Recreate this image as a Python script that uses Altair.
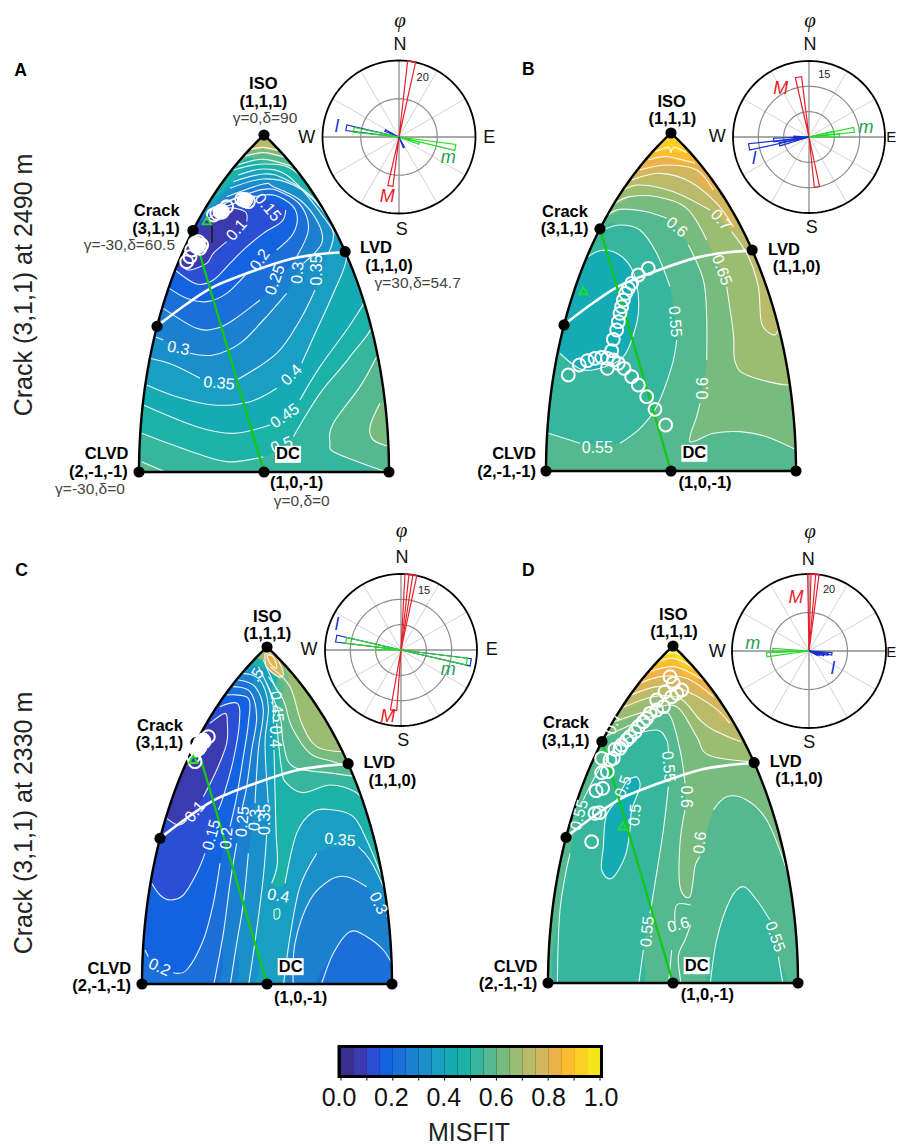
import math
import altair as alt
import pandas as pd

W, H = 909, 1146
# MISFIT colour bins, 0.00-0.05 ... 0.95-1.00
BINS = ["#38308f","#3b3aaf","#2a4fd4","#1262e2","#1a70d8","#1c80d0","#1a90ca","#189fc2","#14abb5","#1cb2a8",
        "#36b69c","#55b98f","#78bb7f","#9abd72","#b9bb6a","#d2b75e","#ebb24a","#fdbb2f","#fbd022","#f6e51a"]

# panel: crop offset, lune centre x, apex y, base y, half width, rose centre x, y, radius
PANELS = {
    "A": dict(o=(0,0),     cx=264, top=135, base=472, half=125, rc=(399,137), rr=76.5),
    "B": dict(o=(500,0),   cx=671, top=133, base=471, half=125, rc=(809,137), rr=76),
    "C": dict(o=(0,510),   cx=267, top=647, base=984, half=125, rc=(401,650), rr=76),
    "D": dict(o=(500,510), cx=673, top=646, base=983, half=125, rc=(809,651), rr=77),
}
N = None
# (misfit bin, traced isoline [N = gap for a label], closing points or "below")
FIELD_A = [
 (14, [], "all"),
 (12, [(745,450),(790,442),(835,452)], "below"),
 (11, [(730,470),(790,458),(855,472)], "below"),
 (10, [(715,495),(790,478),(880,500)], "below"),
 (9, [(425,1300),(560,1350),(680,1385),(790,1370),N,(880,1310),(960,1180),(1050,1070),(1125,950),(1075,800),(960,610),(880,510),(790,492),(700,510)], [(420,900),(395,1300)]),
 (8, [(430,1215),(590,1280),(700,1300),(810,1275),N,(900,1200),(960,1100),(1060,960),(1095,880),(1050,770),(940,610),(860,525),(790,507),(715,525)], [(400,900),(395,1215)]),
 (7, [(440,1155),(530,1190),(640,1215),(750,1205),(830,1165),N,(905,1090),(950,990),(1000,880),(1040,770),(1005,690),(935,590),(850,535),(790,522),(700,545)], [(420,850),(410,1155)]),
 (6, [(450,1075),(520,1095),(600,1135),N,(710,1140),(830,1060),(900,960),(945,870),N,(985,760),(1000,700),(960,620),(880,555),(790,537),(690,565)], [(440,850),(420,1075)]),
 (5, [(465,1010),(490,1020),N,(570,1060),(640,1065),(720,1030),(790,960),(860,880),N,(910,790),(965,730),(955,670),(900,600),(820,560),(790,552),(680,590)], [(460,800),(440,1010)]),
 (4, [(490,925),(590,985),(650,985),(700,960),(780,900),N,(890,770),(925,690),(905,620),(850,580),(790,568),(665,610)], [(480,780),(470,925)]),
 (3, [(500,860),(560,895),(620,905),(680,880),(740,820),N,(830,750),(880,700),(890,640),(855,600),(790,585),(650,630)], [(510,750),(490,860)]),
 (2, [(525,810),(590,852),(640,840),(690,790),(735,745),(790,700),(845,665),(857,630),N,(770,590),(720,590),(640,630)], [(530,740),(510,810)]),
 (1, [(550,800),(570,810),(620,790),(640,760),(680,725),N,(740,665),(735,635),(680,625),(620,660)], [(560,720),(530,790)]),
 (11, [(1130,1070),(1080,1160),(1000,1270),(990,1330),(1010,1360),(1170,1420)], [(1200,1430),(1200,1070)]),
 (11, [(425,1385),(495,1415)], [(495,1440),(400,1440),(400,1385)]),
 (12, [(1140,1210),(1110,1280),(1120,1320),(1170,1340)], [(1200,1340),(1200,1210)]),
]
FIELD_B = [
 (18, [], "all"),
 (17, [(465,455),(505,442),(512,458),(522,442),(560,458)], "below"),
 (16, [(445,480),(500,470),(585,490)], "below"),
 (15, [(420,510),(500,495),(590,510),(640,570)], "below"),
 (14, [(395,540),(480,520),(570,545),(650,610),(700,680)], "below"),
 (13, [(370,570),(420,555),(520,575),(630,630),N,(695,695),(745,770),(775,860),(785,970),(820,1005),(835,990)], "below"),
 (12, [(345,610),(390,590),(470,590),(560,625),(620,720),N,(680,860),(700,1000),(705,1085),(740,1125),(860,1155),(880,1130)], "below"),
 (11, [(325,645),(360,628),(440,635),(500,655),N,(565,735),(610,840),(620,950),(620,1080),N,(600,1210),(590,1250),(570,1325),(640,1300),(720,1295),(800,1310),(890,1350)], "below"),
 (10, [(145,1300),(240,1330),N,(360,1330),(420,1285),(470,1220),(515,1100),(530,1020),N,(510,860),(470,760),(420,690),(360,675),(310,690)], [(200,900),(110,1300)]),
 (8, [(180,1060),(250,1110),(330,1095),(370,1070),(395,1020),(415,940),(410,850),(385,790),(340,755),(290,755),(240,790)], [(190,880),(150,1060)]),
]
FIELD_C = [
 (13, [], "all"),
 (12, [(810,470),(870,530),(905,640),(950,710),(1030,725)], "below"),
 (11, [(805,500),(850,570),(875,650),(930,730),(1000,755),(1060,775)], "below"),
 (10, [(800,520),(840,620),(850,700),(880,770),(1000,790),(1075,800)], "below"),
 (9, [(790,450),(830,540),N,(830,640),(845,780),(860,820),(910,848),(990,825),(1065,845),(1100,885)], "below"),
 (7, [(775,470),(815,560),(820,640),N,(822,720),(828,960),(832,1060),(815,1120),N,(855,1120),(890,970),(940,905),(1000,900),(1060,920),(1100,990),(1150,1110)], "below"),
 (6, [(850,1430),(870,1280),(900,1130),(950,1030),N,(1075,1010),(1110,1050),(1150,1130),(1175,1200)], [(1200,1200),(1200,1440),(850,1450)]),
 (5, [(880,1430),(885,1300),(930,1170),(990,1110),(1040,1100),(1100,1130),N,(1160,1215),(1180,1260)], [(1200,1300),(1190,1450)]),
 (4, [(962,1430),(1000,1330),(1050,1265),(1100,1280),(1150,1320),(1180,1370)], [(1200,1440)]),
 (6, [(730,490),(780,510),(805,590),(795,700),(805,880),N,(800,975),(790,1100),(770,1260),(745,1430)], [(400,1440),(400,800)]),
 (5, [(715,510),(765,530),(790,600),(775,720),(765,880),N,(745,1030),(730,1180),(710,1300),(690,1430)], [(400,1440),(400,800)]),
 (4, [(700,530),(750,545),(770,620),(755,720),(740,830),(725,900),N,(710,1000),(690,1120),(670,1270),(640,1430)], [(400,1440),(400,800)]),
 (3, [(435,1320),(445,1340),N,(520,1388),(560,1380),(610,1290),(640,1180),(660,1060),N,(690,950),(710,860),(730,740),(745,640),(745,565),(680,555)], [(640,560),(500,820),(400,1320)]),
 (2, [(455,1120),(480,1155),(510,1170),(550,1155),(590,1090),(615,1030),N,(655,900),(670,860),(700,750),(718,640),(712,580),(660,590)], [(610,610),(500,850),(420,1120)]),
 (1, [(500,925),(535,945),(560,930),N,(610,860),(650,780),(680,700),(682,640),(675,610),(630,640)], [(570,690),(490,850),(470,925)]),
 (15, [(795,430),(825,435),(850,490),(835,500),(800,470),(795,430)], []),
 (16, [(800,435),(820,440),(830,475),(810,460),(800,435)], []),
 (9, [(822,1200),(838,1198),(838,1222),(824,1226),(822,1200)], []),
]
FIELD_D = [
 (19, [], "all"),
 (18, [(470,440),(520,428),(570,450)], "below"),
 (17, [(445,465),(520,445),(590,480)], "below"),
 (16, [(420,495),(520,470),(610,510)], "below"),
 (15, [(395,530),(480,500),(560,505),(640,560)], "below"),
 (14, [(370,565),(470,530),(550,540),(640,590),(690,640)], "below"),
 (13, [(350,600),(460,560),(540,565),(600,630),(640,660),(722,695)], "below"),
 (12, [(330,640),(450,600),(530,590),(590,680),(625,735),(750,755)], "below"),
 (11, [(315,680),(440,625),(505,610),(540,720),(555,820),N,(555,900),(540,1000),(540,1130),(570,1160),(585,1070),(600,1040),N,(640,900),(680,860),(740,870),(800,930),(850,1050),(885,1170)], "below"),
 (10, [(172,1430),(180,1200),(210,1030),N,(250,870),(285,800),(330,730),(390,680),(470,660),(500,690),(505,730),N,(505,830),(490,960),(465,1120),(450,1210),N,(430,1320),(415,1430)], []),
 (10, [(630,1430),(650,1290),(690,1170),(730,1130),(770,1170),(810,1230),N,(835,1340),(850,1430)], []),
 (8, [(410,800),(420,830),(395,900),(390,960),(375,1040),(335,1105),(305,1080),(310,1010),(318,920),(350,870),(380,815),(410,800)], []),
 (11, [(545,1430),(535,1340),(555,1290),(572,1245),N,(572,1185),(530,1185),(525,1240),N,(515,1320),(505,1430)], []),
]
FIELDS = {"A": FIELD_A, "B": FIELD_B, "C": FIELD_C, "D": FIELD_D}
LIMITS = {"A": (420,1165,1415), "B": (138,885,1414), "C": (428,1175,1422), "D": (147,893,1420)}

# white isoline labels: text, crop x, crop y, angle
LABELS = {
 "A": [("0.15",803,622,50),("0.1",710,690,310),("0.2",780,780,305),("0.25",825,840,290),("0.3",893,818,275),("0.35",950,810,270),
       ("0.3",535,1045,10),("0.35",657,1150,5),("0.4",875,1125,315),("0.45",855,1248,325),("0.5",845,1335,340)],
 "B": [("0.7",662,660,50),("0.6",530,682,40),("0.65",665,810,70),("0.55",525,965,85),("0.6",610,1165,270),("0.55",292,1345,0)],
 "C": [(".5",770,495,300),("0.45",830,590,85),("0.4",825,680,90),("0.1",585,905,310),("0.15",635,975,285),("0.2",680,985,275),
       ("0.25",728,935,275),("0.3",765,930,275),("0.35",795,928,270),("0.4",835,1158,10),("0.35",1020,990,5),("0.3",1135,1180,65),("0.2",478,1372,25)],
 "D": [("0.55",505,770,85),("0.6",558,860,90),("0.5",370,830,290),("0.5",405,915,275),("0.55",238,915,285),("0.6",600,998,275),
       ("0.55",442,1265,275),("0.6",535,1245,345),("0.55",825,1280,70),("0.7",340,640,290)],
}
# white misfit circles, crop coordinates
RINGS = {
 "A": [(585,730),(590,740),(600,745),(575,750),(595,725),(605,735),(570,770),(560,785),(735,600),(745,605),(725,598),(660,635),(680,620),(640,645),(650,640)],
 "B": [(205,1125),(238,1095),(262,1082),(285,1075),(305,1072),(322,1075),(340,1080),(355,1090),(372,1105),(395,1130),(415,1155),(440,1190),(465,1228),(497,1275),
       (322,1105),(335,1052),(340,1018),(350,990),(355,965),(360,940),(365,920),(370,900),(377,880),(385,865),(395,850),(415,825),(445,805)],
 "C": [(585,755),(600,700),(610,690),(625,680),(590,720),(600,710),(580,740)],
 "D": [(275,995),(285,910),(298,908),(288,842),(308,835),(305,788),(322,785),(340,745),(330,750),(360,715),(345,718),(380,690),(365,705),(405,665),(390,680),
       (430,635),(415,650),(450,610),(470,600),(490,590),(470,570),(495,545),(510,500),(520,520),(530,550),(545,540),(515,560),(305,745),(440,625)],
}
SOLID_BLOBS = {"A": [(590,733),(592,738),(735,600),(665,635)], "C": [(610,695),(595,715)]}
TRIANGLES = {"A": (620,662), "B": (250,872), "C": (580,748), "D": (368,948)}
# source-type arc, as fractions of the lune half width and height
ARC_U = [-0.827,-0.613,-0.40,-0.08,0.213,0.453,0.653]
ARC_V = [0.441,0.50,0.55,0.597,0.632,0.647,0.652]

# rose petals: azimuth (deg from N), count, colour name
ROSE_MAX = {"A": 20, "B": 15, "C": 15, "D": 20}
ROSE_RINGS = {"A": [10,20], "B": [5,10,15], "C": [5,10,15], "D": [10,20]}
RED, GREEN, BLUE = "#e8202a", "#22dd22", "#1a2fd0"
PETALS = {
 "A": [(9.5,20,RED),(190,13,RED),(280,14,BLUE),(279,12,GREEN),(100.5,15,GREEN),(107,5.5,GREEN),(295,4,BLUE),(155,3,BLUE),(280,3,GREEN)],
 "B": [(350,12,RED),(171,10,RED),(260.6,12,BLUE),(265,7,BLUE),(256,6,BLUE),(81,9,GREEN),(87,6,GREEN),(80,5,GREEN),(270,3,BLUE)],
 "C": [(9,15,RED),(6,15,RED),(187,12,RED),(280,13,BLUE),(280,11,GREEN),(100,14,BLUE),(100,13.2,GREEN),(274,5,GREEN)],
 "D": [(4.5,20,RED),(2,20,RED),(265,11,GREEN),(271,9.4,GREEN),(97,6,BLUE),(100,5,BLUE),(105,4,BLUE),(110,3,BLUE),(115,2.4,BLUE)],
}

# text tables, crop coordinates
BOLD = {
 "A": [("A",62,212,17.5),("ISO",790,252,16.5),("(1,1,1)",790,307,16.5),("Crack",470,633,16.5),("(3,1,1)",468,687,16.5),("LVD",1128,745,16.5),("(1,1,0)",1167,798,16.5),
       ("CLVD",320,1362,16.5),("(2,-1,-1)",295,1415,16.5),("(1,0,-1)",890,1450,16.5)],
 "B": [("B",85,210,17.5),("ISO",515,305,16.5),("(1,1,1)",517,358,16.5),("Crack",195,635,16.5),("(3,1,1)",194,688,16.5),("LVD",852,750,16.5),("(1,1,0)",890,800,16.5),
       ("CLVD",42,1362,16.5),("(2,-1,-1)",20,1415,16.5),("(1,0,-1)",615,1450,16.5)],
 "C": [("C",65,182,17.5),("ISO",802,320,16.5),("(1,1,1)",802,372,16.5),("Crack",480,648,16.5),("(3,1,1)",478,698,16.5),("LVD",1138,760,16.5),("(1,1,0)",1177,813,16.5),
       ("CLVD",328,1378,16.5),("(2,-1,-1)",305,1428,16.5),("(1,0,-1)",902,1465,16.5)],
 "D": [("D",85,182,17.5),("ISO",520,314,16.5),("(1,1,1)",522,367,16.5),("Crack",198,640,16.5),("(3,1,1)",197,692,16.5),("LVD",857,755,16.5),("(1,1,0)",897,807,16.5),
       ("CLVD",47,1370,16.5),("(2,-1,-1)",24,1422,16.5),("(1,0,-1)",622,1455,16.5)],
}
DC_BOX = {"A": (864,1363), "B": (583,1360), "C": (872,1370), "D": (590,1367)}
GAMMA = [("γ=0,δ=90",795,355),("γ=-30,δ=60.5",388,735),("γ=30,δ=54.7",1253,848),("γ=-30,δ=0",270,1467),("γ=0,δ=0",905,1502)]
COMPASS = {
 "A": [("N",1200,135,18),("S",1205,690,18),("W",920,415,18),("E",1468,415,18)],
 "B": [("N",930,135,18),("S",935,685,18),("W",652,410,18),("E",1174,410,15)],
 "C": [("N",1206,145,18),("S",1210,693,18),("W",927,420,18),("E",1475,420,18)],
 "D": [("N",925,150,18),("S",928,700,18),("W",652,425,18),("E",1174,425,15)],
}
PHI = {"A": (1200,62), "B": (930,62), "C": (1205,62), "D": (930,66)}
ROSE_MAX_LABEL = {"A": (1268,235), "B": (973,225), "C": (1272,242), "D": (987,240)}
ROSE_NAMES = {
 "A": [("l",1010,380,BLUE),("m",1345,475,"#22a050"),("M",1162,592,RED)],
 "B": [("l",762,478,BLUE),("m",1098,385,"#22a050"),("M",842,268,RED)],
 "C": [("l",1010,345,BLUE),("m",1345,480,"#22a050"),("M",1163,620,RED)],
 "D": [("l",998,478,BLUE),("m",758,402,"#22a050"),("M",888,265,RED)],
}
ROW_TITLES = [("Crack (3,1,1) at 2490 m",24,285),("Crack (3,1,1) at 2330 m",24,823)]
BAR_LABELS = ["0.0","0.2","0.4","0.6","0.8","1.0"]
BAR_TICKS = [0,0.1,0.2,0.3,0.4,0.5,0.6,0.7,0.8,0.9,1.0]

# ---------------- geometry helpers -------------------
def crop(k, p):
    o = PANELS[k]["o"]
    return (o[0] + p[0] / 3, o[1] + p[1] / 3)

def hammer(g, d):
    g, d = math.radians(g), math.radians(d)
    den = math.sqrt(1 + math.cos(d) * math.cos(g / 2))
    xh = 2 * math.sqrt(2) * math.cos(d) * math.sin(g / 2) / den
    yh = math.sqrt(2) * math.sin(d) / den
    return xh, yh

XMAX = hammer(30, 0)[0]
YMAX = hammer(0, 90)[1]

def lune(k, g, d):
    P = PANELS[k]
    xh, yh = hammer(g, d)
    return (P["cx"] + xh / XMAX * P["half"], P["base"] - yh / YMAX * (P["base"] - P["top"]))

def rose(k, az, val):
    P = PANELS[k]
    r = val / ROSE_MAX[k] * P["rr"]
    a = math.radians(az)
    return (P["rc"][0] + r * math.sin(a), P["rc"][1] - r * math.cos(a))

# ---------------- tables -------------------
fills, strokes = [], []
fid = sid = 0
for k, field in FIELDS.items():
    L, R, B = LIMITS[k]
    L, R, B = L - 55, R + 55, B + 28
    for idx, trace, close in field:
        pts = [p for p in trace if p is not None]
        if close == "all":
            poly = [(L, 350), (R, 350), (R, B), (L, B)]
        elif close == "below":
            poly = pts + [(R, pts[-1][1]), (R, B), (L, B), (L, pts[0][1])]
        else:
            poly = pts + list(close)
        for s, p in enumerate(poly):
            x, y = crop(k, p)
            fills.append(dict(id=fid, s=s, x=x, y=y, c=BINS[idx]))
        fid += 1
        seg = []
        for p in list(trace) + [None]:
            if p is None:
                if len(seg) > 1:
                    for s, q in enumerate(seg):
                        x, y = crop(k, q)
                        strokes.append(dict(id=sid, s=s, x=x, y=y))
                    sid += 1
                seg = []
            else:
                seg.append(p)

# white page with four lune-shaped openings
def opening(k):
    left = [lune(k, -30, 90 - 90 * i / 40) for i in range(41)]
    right = [lune(k, 30, 90 * i / 40) for i in range(41)]
    return left + right

mask_pts = [(0, 0)] + opening("A") + [(0, 0)] + opening("B") + [(0, 0), (W, 0), (W, H), (0, H)] + opening("D") + [(0, H)] + opening("C") + [(0, H)]
mask = pd.DataFrame([dict(s=i, x=p[0], y=p[1]) for i, p in enumerate(mask_pts)])

outline, arcs, greens, dots, rings, solids, tris, boxes = [], [], [], [], [], [], [], []
white_txt, bold_txt, reg_txt, ital_txt, phi_txt = [], [], [], [], []
polar_lines = []
pl = 0
for k, P in PANELS.items():
    for i, p in enumerate(opening(k) + [lune(k, -30, 90)]):
        outline.append(dict(id=k, s=i, x=p[0], y=p[1]))
    for i, (u, v) in enumerate(zip(ARC_U, ARC_V)):
        arcs.append(dict(id=k, s=i, x=P["cx"] + u * P["half"], y=P["base"] - v * (P["base"] - P["top"])))
    for i, p in enumerate([lune(k, -30, 60.5), lune(k, 0, 0)]):
        greens.append(dict(id=k, s=i, x=p[0], y=p[1]))
    for g, d in [(0, 90), (-30, 60.5), (30, 54.7), (-30, 35.3), (-30, 0), (0, 0), (30, 0)]:
        p = lune(k, g, d)
        dots.append(dict(x=p[0], y=p[1]))
    for q in RINGS[k]:
        x, y = crop(k, q); rings.append(dict(x=x, y=y))
    for q in SOLID_BLOBS.get(k, []):
        x, y = crop(k, q); solids.append(dict(x=x, y=y))
    x, y = crop(k, TRIANGLES[k]); tris.append(dict(x=x, y=y))
    x, y = crop(k, DC_BOX[k])
    boxes.append(dict(x=x - 13, x2=x + 13, y=y - 8.5, y2=y + 8.5))
    bold_txt.append(dict(t="DC", x=x, y=y, z=16.5, a=0, c="black"))
    for t, cx, cy, a in LABELS[k]:
        x, y = crop(k, (cx, cy)); white_txt.append(dict(t=t, x=x, y=y, z=16, a=a, c="white"))
    for t, cx, cy, z in BOLD[k]:
        x, y = crop(k, (cx, cy)); bold_txt.append(dict(t=t, x=x, y=y, z=z, a=0, c="black"))
    for t, cx, cy, z in COMPASS[k]:
        x, y = crop(k, (cx, cy)); reg_txt.append(dict(t=t, x=x, y=y, z=z, a=0, c="#111111"))
    x, y = crop(k, ROSE_MAX_LABEL[k]); reg_txt.append(dict(t=str(ROSE_MAX[k]), x=x, y=y, z=11, a=0, c="#222222"))
    x, y = crop(k, PHI[k]); phi_txt.append(dict(t="φ", x=x, y=y, z=21, a=0, c="#111111"))
    for t, cx, cy, col in ROSE_NAMES[k]:
        x, y = crop(k, (cx, cy)); ital_txt.append(dict(t=t, x=x, y=y, z=18, a=0, c=col))
    # rose grid
    rc, rr = P["rc"], P["rr"]
    for az in range(0, 180, 30):
        a, b = rose(k, az, ROSE_MAX[k]), rose(k, az + 180, ROSE_MAX[k])
        col = "#8c8c8c" if az % 90 == 0 else "#d4d4d4"
        for i, p in enumerate([a, b]):
            polar_lines.append(dict(id=pl, s=i, x=p[0], y=p[1], c=col, w=1.3 if az % 90 == 0 else 1))
        pl += 1
    for val in ROSE_RINGS[k]:
        last = val == ROSE_MAX[k]
        for i in range(121):
            p = rose(k, i * 3, val)
            polar_lines.append(dict(id=pl, s=i, x=p[0], y=p[1], c="black" if last else "#8c8c8c", w=1.8 if last else 1.2))
        pl += 1
    for az, val, col in PETALS[k]:
        for i, p in enumerate([rose(k, 0, 0), rose(k, az - 3, val), rose(k, az + 3, val), rose(k, 0, 0)]):
            polar_lines.append(dict(id=pl, s=i, x=p[0], y=p[1], c=col, w=1.2))
        pl += 1

for t, cx, cy in GAMMA:
    x, y = crop("A", (cx, cy)); reg_txt.append(dict(t=t, x=x, y=y, z=15.5, a=0, c="#444444"))
for t, x, y in ROW_TITLES:
    reg_txt.append(dict(t=t, x=x, y=y, z=25, a=270, c="#222222"))
reg_txt.append(dict(t="MISFIT", x=469, y=1133, z=25, a=0, c="#222222"))
for i, t in enumerate(BAR_LABELS):
    reg_txt.append(dict(t=t, x=339 + 262 * float(t), y=1098, z=25, a=0, c="#111111"))

bar = pd.DataFrame([dict(x=341 + 259 * i / 20, x2=341 + 259 * (i + 1) / 20, y=1048, y2=1075, c=BINS[i]) for i in range(20)])
bar_frame = pd.DataFrame([dict(x=337.5, x2=603, y=1045, y2=1078)])
bar_ticks = pd.DataFrame([dict(x=341 + 259 * v, y=1078, y2=1080.5) for v in BAR_TICKS])
blackbar = pd.DataFrame([dict(x=212, y=226, y2=243)])

# ---------------- chart -------------------
X = alt.X("x:Q", scale=alt.Scale(domain=[8, 901], nice=False, zero=False), axis=None)
Y = alt.Y("y:Q", scale=alt.Scale(domain=[1145, 8], nice=False, zero=False), axis=None)
X2, Y2 = alt.X2("x2:Q"), alt.Y2("y2:Q")
Cn = alt.Color("c:N", scale=None, legend=None)
order = alt.Order("s:Q")

def text_layer(rows, **kw):
    return alt.Chart(pd.DataFrame(rows)).mark_text(baseline="middle", align="center", **kw).encode(
        x=X, y=Y, text="t:N", size=alt.Size("z:Q", scale=None, legend=None),
        angle=alt.Angle("a:Q", scale=None), color=Cn)

layers = [
    alt.Chart(pd.DataFrame(fills)).mark_line(filled=True, interpolate="cardinal-closed", strokeWidth=0).encode(
        x=X, y=Y, detail="id:Q", order=order, color=Cn),
    alt.Chart(pd.DataFrame(strokes)).mark_line(interpolate="cardinal", color="white", strokeWidth=1.1, opacity=0.9).encode(
        x=X, y=Y, detail="id:Q", order=order),
    alt.Chart(mask).mark_line(filled=True, interpolate="linear-closed", color="white", strokeWidth=0, clip=True).encode(
        x=X, y=Y, order=order),
    alt.Chart(pd.DataFrame(arcs)).mark_line(interpolate="cardinal", color="white", strokeWidth=2.6).encode(
        x=X, y=Y, detail="id:N", order=order),
    alt.Chart(pd.DataFrame(greens)).mark_line(color="#12c812", strokeWidth=2.3).encode(
        x=X, y=Y, detail="id:N", order=order),
    alt.Chart(pd.DataFrame(outline)).mark_line(color="black", strokeWidth=2.4).encode(
        x=X, y=Y, detail="id:N", order=order),
    alt.Chart(blackbar).mark_rule(color="#222222", strokeWidth=1.8).encode(x=X, y=Y, y2=Y2),
    text_layer(white_txt, font="Liberation Sans"),
    alt.Chart(pd.DataFrame(polar_lines)).mark_line().encode(
        x=X, y=Y, detail="id:Q", order=order,
        color=alt.Color("c:N", scale=None, legend=None),
        strokeWidth=alt.StrokeWidth("w:Q", scale=None, legend=None)),
    alt.Chart(pd.DataFrame(dots)).mark_point(filled=True, color="black", size=125, opacity=1).encode(x=X, y=Y),
    alt.Chart(pd.DataFrame(solids)).mark_point(filled=True, color="white", size=260, opacity=1).encode(x=X, y=Y),
    alt.Chart(pd.DataFrame(rings)).mark_point(filled=False, color="white", size=165, strokeWidth=2, opacity=1).encode(x=X, y=Y),
    alt.Chart(pd.DataFrame(tris)).mark_point(shape="triangle-up", filled=False, color="#1fe01f", size=70, strokeWidth=1.8, opacity=1).encode(x=X, y=Y),
    alt.Chart(pd.DataFrame(boxes)).mark_rect(color="white").encode(x=X, x2=X2, y=Y, y2=Y2),
    text_layer(bold_txt, font="Liberation Sans", fontWeight="bold"),
    text_layer(reg_txt, font="Liberation Sans"),
    text_layer(ital_txt, font="Liberation Sans", fontStyle="italic"),
    text_layer(phi_txt, font="Liberation Serif", fontStyle="italic"),
    alt.Chart(bar_frame).mark_rect(color="black").encode(x=X, x2=X2, y=Y, y2=Y2),
    alt.Chart(bar).mark_rect().encode(x=X, x2=X2, y=Y, y2=Y2, color=Cn),
    alt.Chart(bar_ticks).mark_rule(color="black", strokeWidth=1).encode(x=X, y=Y, y2=Y2),
]

chart = alt.layer(*layers).properties(width=893, height=1137, padding=0, autosize="none").configure_view(stroke=None)
chart.save("out.html", embed_options={"renderer": "svg", "actions": False})
